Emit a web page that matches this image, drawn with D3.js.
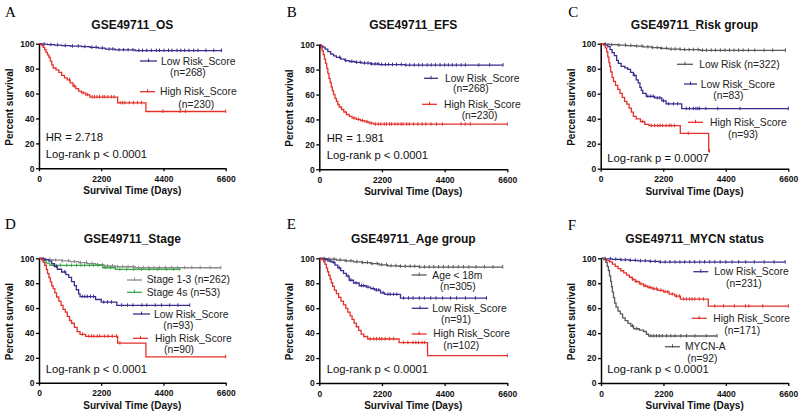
<!DOCTYPE html>
<html><head><meta charset="utf-8">
<script src="https://cdn.jsdelivr.net/npm/d3@7"></script>
<style>body{margin:0;background:#fff}svg{display:block}</style>
</head><body>
<svg id="c" width="800" height="413"></svg>
<script>
// ---------------- DATA ----------------
const panelLetters = ["A","B","C","D","E","F"];
const panelTitles = ["GSE49711_OS","GSE49711_EFS","GSE49711_Risk group","GSE49711_Stage","GSE49711_Age group","GSE49711_MYCN status"];
const xTicks = [0,2200,4400,6600];
const yTicks = [0,20,40,60,80,100];
const xLabel = "Survival Time (Days)";
const yLabel = "Percent survival";
const hrTexts = ["HR = 2.718","HR = 1.981",null,null,null,null];
const pTexts = ["Log-rank p < 0.0001","Log-rank p < 0.0001","Log-rank p = 0.0007","Log-rank p < 0.0001","Log-rank p < 0.0001","Log-rank p < 0.0001"];

// step events [time, survival %], end time, censor times
const A_low = [[100,99.6],[300,99.2],[550,98.8],[800,98.4],[1100,98.0],[1500,97.6],[1800,97.0],[2100,96.4],[2350,95.6],[2700,95.0],[3400,94.5]];
const A_low_end = 6450;
const A_low_cens = [180,420,660,930,1180,1390,1620,1870,2020,2240,2480,2610,2830,2990,3150,3320,3530,3660,3810,3970,4150,4260,4420,4580,4700,4880,5010,5150,5300,5470,5620,5900,6180,6450];
const A_high = [[50,99.5],[100,98.5],[150,97],[200,95],[250,93],[300,91],[350,89],[400,86],[450,83],[500,80.5],[600,79],[700,77],[800,74.5],[900,72.5],[1000,71],[1100,68.5],[1200,66],[1300,64],[1400,62],[1500,60.5],[1650,59],[1800,57.2],[2780,52.5],[3780,45.6]];
const A_high_end = 6600;
const A_high_cens = [1080,1250,1560,1720,1880,1960,2050,2140,2260,2330,2440,2560,2650,2870,2960,3040,3190,3340,3480,3620,4380,4990,5180,6600];

const B_low = [[60,99],[120,98],[200,96.5],[300,94.5],[400,92.5],[500,91],[600,89.8],[750,88.5],[900,87.2],[1050,86.5],[1250,85.8],[1500,85.2],[1800,84.5],[2100,84],[3000,83.6]];
const B_low_end = 6450;
const B_low_cens = [720,930,1140,1310,1440,1590,1710,1830,1960,2060,2190,2320,2430,2570,2710,2880,3040,3170,3330,3490,3620,3790,3930,4080,4240,4400,4530,4670,4810,4980,5130,5600,5980,6450];
const B_high = [[30,99],[60,97.5],[100,95],[140,92],[180,88.5],[220,85],[260,81],[300,77],[340,73],[380,69.5],[420,66],[460,63],[500,60],[550,57],[600,54.5],[650,52],[700,50],[780,48],[860,46],[950,44],[1050,42.5],[1150,41],[1300,40],[1450,39],[1600,38],[1750,37],[1900,36.2]];
const B_high_end = 6600;
const B_high_cens = [1220,1380,1520,1680,1820,1970,2070,2160,2280,2360,2470,2540,2660,2760,2870,2940,3070,3160,3310,3460,3610,3740,3920,4110,4320,4980,5120,5300,6600];

const C_lowrisk = [[100,99.6],[300,99.2],[600,98.8],[900,98.4],[1200,98],[1500,97.4],[1800,96.8],[2100,96.2],[2400,95.6],[2800,95.2],[3500,94.7]];
const C_lowrisk_end = 6500;
const C_lowrisk_cens = [160,390,640,870,1060,1270,1450,1660,1820,1990,2150,2310,2480,2620,2790,2950,3110,3260,3430,3580,3720,3890,4040,4210,4370,4530,4690,4850,5010,5200,5420,5750,6050,6500];
const C_lowscore = [[150,98.8],[250,97.6],[330,95.2],[400,92.8],[480,90.4],[560,86.7],[620,84.3],[720,81.9],[850,80.7],[950,79.5],[1050,77.1],[1150,74.7],[1250,71.1],[1320,68.7],[1380,65.1],[1430,62.7],[1480,60.2],[1600,57.8],[1900,56.6],[2150,54.2],[2300,51.8],[2850,48]];
const C_lowscore_end = 6600;
const C_lowscore_cens = [1180,1660,1760,1850,1990,2080,2210,2390,2560,2710,3010,3120,3260,3350,3420,3480,3700,4120,4900,6600];
const C_high = [[100,98.9],[160,96.7],[210,93.5],[250,89.2],[290,84.9],[320,81.7],[350,77.4],[400,73.1],[450,69.9],[520,66.7],[600,63.4],[680,60.2],[760,57],[840,53.8],[920,51.6],[1000,48.4],[1080,45.2],[1150,41.9],[1250,39.8],[1400,37.6],[1550,35.5],[1700,34.4],[2800,28.2],[3800,14]];
const C_high_end = 3830;
const C_high_cens = [1480,1780,1900,2010,2090,2180,2300,2410,2480,2590,3080,3830];

const D_s13 = [[100,99.6],[250,99],[500,98.5],[800,97.9],[1100,97.3],[1400,96.6],[1700,95.8],[2000,94.8],[2300,93.8],[2700,93.2],[3400,92.4]];
const D_s13_end = 6430;
const D_s13_cens = [140,380,590,820,1040,1260,1460,1680,1880,2060,2240,2420,2600,2780,2960,3150,3330,3520,3690,3880,4060,4260,4470,4690,4900,5150,5400,5700,6050,6430];
const D_s4s = [[120,98.1],[250,96.2],[380,94.3],[2250,92.4],[2700,91.1]];
const D_s4s_end = 4980;
const D_s4s_cens = [520,760,980,1150,1330,1480,1610,1790,1930,2090,2340,2530,2860,3100,3350,3620,3900,4200,4500,4760,4980];
const D_low = [[150,98.9],[350,97.8],[450,95.6],[550,93.4],[650,91.2],[800,89],[950,86.8],[1050,84.6],[1150,81.3],[1250,78],[1320,74.7],[1400,71.4],[1450,69.2],[2000,66.9],[2200,64.7],[2750,62.2]];
const D_low_end = 5330;
const D_low_cens = [210,620,910,1530,1620,1710,1820,1930,2290,2420,2560,2920,3130,3320,3640,3810,4110,4330,4620,4910,5330];
const D_high = [[80,98.9],[150,96.7],[200,94.4],[260,91.1],[300,87.8],[350,84.4],[400,81.1],[450,77.8],[500,75.6],[560,72.2],[620,68.9],[700,65.6],[780,62.2],[850,58.9],[930,56.7],[1000,53.3],[1080,50],[1150,47.8],[1250,44.4],[1350,41.1],[1450,38.9],[1650,37.3],[2780,31.8],[3780,20.8]];
const D_high_end = 6600;
const D_high_cens = [1540,1760,1860,1940,2060,2150,2310,2440,2590,2740,2860,6600];

const E_age = [[100,99.7],[300,99.3],[600,98.6],[900,97.9],[1200,97.2],[1500,96.5],[1800,95.7],[2100,94.8],[2400,94],[2800,93.5],[3500,93]];
const E_age_end = 6440;
const E_age_cens = [170,340,520,730,940,1110,1320,1510,1690,1850,2030,2190,2360,2520,2690,2850,3020,3190,3350,3520,3690,3860,4020,4190,4360,4530,4700,4880,5060,5250,5500,5800,6100,6440];
const E_low = [[150,98.9],[300,97.8],[450,96.7],[550,94.5],[650,92.3],[750,90.1],[850,87.9],[950,85.7],[1050,82.4],[1200,80.2],[1400,78],[1650,76.9],[1800,75.7],[1950,74.5],[2150,72.3],[2300,71.1],[2850,68]];
const E_low_end = 5870;
const E_low_cens = [210,390,510,700,1010,1110,1290,1480,1560,1710,1890,2010,2090,2240,2410,2490,2610,2720,2960,3130,3290,3510,3690,3910,4100,4330,4610,4820,5130,5480,5870];
const E_high = [[80,99],[150,97.1],[200,95.1],[250,92.2],[290,89.2],[330,86.3],[380,83.3],[420,80.4],[470,77.5],[530,74.5],[600,71.6],[680,68.6],[760,65.7],[850,62.7],[930,59.8],[1000,56.9],[1080,53.9],[1150,51],[1220,48],[1300,45.1],[1380,42.2],[1470,39.2],[1560,37.3],[1700,35.3],[2800,32.3],[3800,21.9]];
const E_high_end = 6600;
const E_high_cens = [1790,1910,2010,2110,2190,2310,2460,2610,2960,3110,3290,3390,3480,3610,3700,6600];

const F_low = [[150,99.6],[400,99.2],[700,98.8],[1000,98.3],[1300,97.9],[1700,97.5],[2050,97]];
const F_low_end = 6490;
const F_low_cens = [150,330,520,700,860,1030,1210,1390,1560,1740,1910,2090,2260,2430,2610,2780,2950,3130,3300,3480,3650,3830,4010,4200,4400,4620,4850,5100,5400,5750,6100,6490];
const F_high = [[100,99.4],[200,98.2],[300,97.1],[400,95.3],[500,93.6],[600,91.8],[700,90],[800,88.3],[900,86.5],[1000,84.8],[1100,83],[1200,81.3],[1350,79.5],[1500,77.8],[1650,76.6],[1800,75.5],[2000,74.3],[2200,73.1],[2400,71.3],[2600,69.6],[2800,67.2],[3780,61.6]];
const F_high_end = 6600;
const F_high_cens = [1120,1260,1410,1560,1720,1860,1950,2110,2260,2350,2510,2660,2760,2910,3010,3120,3210,3310,3460,3610,4010,4320,4700,5090,5210,5700,6600];
const F_mycn = [[100,98.9],[170,96.7],[220,93.5],[260,90.2],[300,85.9],[340,81.5],[370,77.2],[400,72.8],[440,68.5],[480,64.1],[530,60.9],[600,57.6],[680,55.4],[760,52.2],[850,50],[950,47.8],[1050,45.7],[1150,43.5],[1350,42.4],[1500,41.3],[1600,39.1],[1680,37.7]];
const F_mycn_end = 4090;
const F_mycn_cens = [1110,1260,1760,1860,1960,2060,2160,2310,2460,2610,2810,3010,3310,3710,4090];

// legend labels per panel
const legLabels = [
  [["Low Risk_Score","(n=268)"],["High Risk_Score","(n=230)"]],
  [["Low Risk_Score","(n=268)"],["High Risk_Score","(n=230)"]],
  [["Low Risk (n=322)",null],["Low Risk_Score","(n=83)"],["High Risk_Score","(n=93)"]],
  [["Stage 1-3 (n=262)",null],["Stage 4s (n=53)",null],["Low Risk_Score","(n=93)"],["High Risk_Score","(n=90)"]],
  [["Age < 18m","(n=305)"],["Low Risk_Score","(n=91)"],["High Risk_Score","(n=102)"]],
  [["Low Risk_Score","(n=231)"],["High Risk_Score","(n=171)"],["MYCN-A","(n=92)"]]
];

// ---------------- STYLE / LAYOUT ----------------
const NAVY="#3b2d8e", RED="#e5312b", GRAY="#5a5a5a", LGRAY="#8c8c8c", GREEN="#3aa648";
const SANS="'Liberation Sans', Arial, Helvetica, sans-serif";
const SERIF="'Liberation Serif', 'Times New Roman', serif";

const panels = [
  {frame:{x0:39,x1:225.7,yT:43.7,yB:168.3}, letter:[5,16.7], titleY:29.3, hr:[45.7,140.7], p:[45.7,158],
   curves:[{s:A_low,e:A_low_end,c:A_low_cens,col:NAVY},{s:A_high,e:A_high_end,c:A_high_cens,col:RED}],
   leg:[{col:NAVY,lx:[140,157],ly:61,tx:161,ty:64.5,nx:170,ny:76},{col:RED,lx:[140,155],ly:91.7,tx:160,ty:95.3,nx:178.3,ny:108}]},
  {frame:{x0:319.3,x1:507.3,yT:44.7,yB:169.3}, letter:[286.7,16.7], titleY:29.3, hr:[326.7,141.7], p:[326.7,159.3],
   curves:[{s:B_low,e:B_low_end,c:B_low_cens,col:NAVY},{s:B_high,e:B_high_end,c:B_high_cens,col:RED}],
   leg:[{col:NAVY,lx:[424,438],ly:78.3,tx:445,ty:81.7,nx:453,ny:92.3},{col:RED,lx:[422,437],ly:104.3,tx:444,ty:107.7,nx:461.7,ny:119.3}]},
  {frame:{x0:600.7,x1:788.3,yT:43.7,yB:168.7}, letter:[568.3,16.7], titleY:29.3, hr:null, p:[607.3,161.7],
   curves:[{s:C_lowrisk,e:C_lowrisk_end,c:C_lowrisk_cens,col:GRAY},{s:C_lowscore,e:C_lowscore_end,c:C_lowscore_cens,col:NAVY},{s:C_high,e:C_high_end,c:C_high_cens,col:RED}],
   leg:[{col:GRAY,lx:[677,693],ly:64.3,tx:699.3,ty:67.7},{col:NAVY,lx:[684,697],ly:84,tx:700.7,ty:87.7,nx:713.3,ny:99},{col:RED,lx:[688,703],ly:122.3,tx:710,ty:126,nx:728,ny:137.7}]},
  {frame:{x0:39,x1:225.7,yT:258.3,yB:382.7}, letter:[5,228.7], titleY:243.3, hr:null, p:[45.7,373.3],
   curves:[{s:D_s13,e:D_s13_end,c:D_s13_cens,col:LGRAY},{s:D_s4s,e:D_s4s_end,c:D_s4s_cens,col:GREEN},{s:D_low,e:D_low_end,c:D_low_cens,col:NAVY},{s:D_high,e:D_high_end,c:D_high_cens,col:RED}],
   leg:[{col:LGRAY,lx:[127,142],ly:280,tx:146.7,ty:283.3},{col:GREEN,lx:[127,142],ly:292.3,tx:146.7,ty:295.7},{col:NAVY,lx:[133,150],ly:314,tx:154,ty:317.7,nx:163.3,ny:329.3},{col:RED,lx:[133,148],ly:338.3,tx:155,ty:341.7,nx:164,ny:353.3}]},
  {frame:{x0:319.3,x1:507.3,yT:258.3,yB:383}, letter:[286.7,229], titleY:243.3, hr:null, p:[326.7,373.3],
   curves:[{s:E_age,e:E_age_end,c:E_age_cens,col:GRAY},{s:E_low,e:E_low_end,c:E_low_cens,col:NAVY},{s:E_high,e:E_high_end,c:E_high_cens,col:RED}],
   leg:[{col:GRAY,lx:[411.7,426.7],ly:275,tx:432.3,ty:278.7,nx:440,ny:290.3},{col:NAVY,lx:[411.7,428.3],ly:308.3,tx:432.3,ty:311.7,nx:441,ny:323},{col:RED,lx:[411.7,426.7],ly:334,tx:433.3,ty:337.3,nx:443.3,ny:349}]},
  {frame:{x0:601,x1:788.3,yT:258.3,yB:383}, letter:[567.7,229.5], titleY:243.3, hr:null, p:[607.3,373.3],
   curves:[{s:F_low,e:F_low_end,c:F_low_cens,col:NAVY},{s:F_high,e:F_high_end,c:F_high_cens,col:RED},{s:F_mycn,e:F_mycn_end,c:F_mycn_cens,col:GRAY}],
   leg:[{col:NAVY,lx:[693.3,708.3],ly:271.7,tx:714.3,ty:275,nx:726,ny:287},{col:RED,lx:[691.7,706.7],ly:318.3,tx:713.3,ty:321.7,nx:724.3,ny:333.7},{col:GRAY,lx:[665,680],ly:346.7,tx:685,ty:350.3,nx:687.3,ny:362}]}
];

// ---------------- DRAW ----------------
const svg = d3.select("#c");

function survAt(steps, t){
  let s = 100;
  for(const st of steps){ if(st[0] <= t) s = st[1]; else break; }
  return s;
}

panels.forEach((P,i)=>{
  const f = P.frame;
  const x = d3.scaleLinear().domain([0,6600]).range([f.x0,f.x1]);
  const y = d3.scaleLinear().domain([0,100]).range([f.yB,f.yT]);
  const g = svg.append("g");

  g.append("text").attr("x",P.letter[0]).attr("y",P.letter[1])
    .attr("font-family",SERIF).attr("font-size",15).attr("fill","#000").text(panelLetters[i]);
  g.append("text").attr("x",(f.x0+f.x1)/2).attr("y",P.titleY).attr("text-anchor","middle")
    .attr("font-family",SANS).attr("font-weight","bold").attr("font-size",12).attr("fill","#111").text(panelTitles[i]);

  P.curves.forEach(cv=>{
    const pts = [[0,100]].concat(cv.s).concat([[cv.e, cv.s[cv.s.length-1][1]]]);
    const line = d3.line().x(d=>x(d[0])).y(d=>y(d[1])).curve(d3.curveStepAfter);
    g.append("path").attr("d",line(pts)).attr("fill","none").attr("stroke",cv.col).attr("stroke-width",1.3);
    g.selectAll(null).data(cv.c).enter().append("line")
      .attr("x1",d=>x(d)).attr("x2",d=>x(d))
      .attr("y1",d=>y(survAt(cv.s,d))-2).attr("y2",d=>y(survAt(cv.s,d))+1.5)
      .attr("stroke",cv.col).attr("stroke-width",1);
  });

  const ya = d3.axisLeft(y).tickValues(yTicks).tickSize(3).tickPadding(1.5).tickSizeOuter(0).tickFormat(d3.format("d"));
  const xa = d3.axisBottom(x).tickValues(xTicks).tickSize(3).tickPadding(4.5).tickSizeOuter(0).tickFormat(d3.format("d"));
  const gy = g.append("g").attr("transform",`translate(${f.x0},0)`).call(ya);
  const gx = g.append("g").attr("transform",`translate(0,${f.yB})`).call(xa);
  [gx,gy].forEach(ax=>{
    ax.select(".domain").attr("stroke","#000").attr("stroke-width",1.5);
    ax.selectAll(".tick line").attr("stroke","#000").attr("stroke-width",1.3);
    ax.selectAll(".tick text").attr("font-family",SANS).attr("font-weight","bold").attr("font-size",8.5).attr("fill","#111");
  });

  g.append("text").attr("x",(f.x0+f.x1)/2).attr("y",f.yB+26).attr("text-anchor","middle")
    .attr("font-family",SANS).attr("font-weight","bold").attr("font-size",10).attr("fill","#111").text(xLabel);
  g.append("text").attr("transform",`translate(${f.x0-26},${(f.yT+f.yB)/2+1}) rotate(-90)`).attr("text-anchor","middle")
    .attr("font-family",SANS).attr("font-weight","bold").attr("font-size",10).attr("fill","#111").text(yLabel);

  if(P.hr && hrTexts[i]) g.append("text").attr("x",P.hr[0]).attr("y",P.hr[1])
    .attr("font-family",SANS).attr("font-size",11.3).attr("fill","#111").text(hrTexts[i]);
  g.append("text").attr("x",P.p[0]).attr("y",P.p[1])
    .attr("font-family",SANS).attr("font-size",11.3).attr("fill","#111").text(pTexts[i]);

  P.leg.forEach((L,j)=>{
    const lab = legLabels[i][j];
    g.append("line").attr("x1",L.lx[0]).attr("x2",L.lx[1]).attr("y1",L.ly).attr("y2",L.ly)
      .attr("stroke",L.col).attr("stroke-width",1.3);
    const mx=(L.lx[0]+L.lx[1])/2;
    g.append("line").attr("x1",mx).attr("x2",mx).attr("y1",L.ly-2.5).attr("y2",L.ly+1)
      .attr("stroke",L.col).attr("stroke-width",1);
    g.append("text").attr("x",L.tx).attr("y",L.ty).attr("font-family",SANS).attr("font-size",10.3)
      .attr("fill","#222").text(lab[0]);
    if(lab[1]) g.append("text").attr("x",L.nx).attr("y",L.ny).attr("font-family",SANS).attr("font-size",10.3)
      .attr("fill","#222").text(lab[1]);
  });
});
</script>
</body></html>
